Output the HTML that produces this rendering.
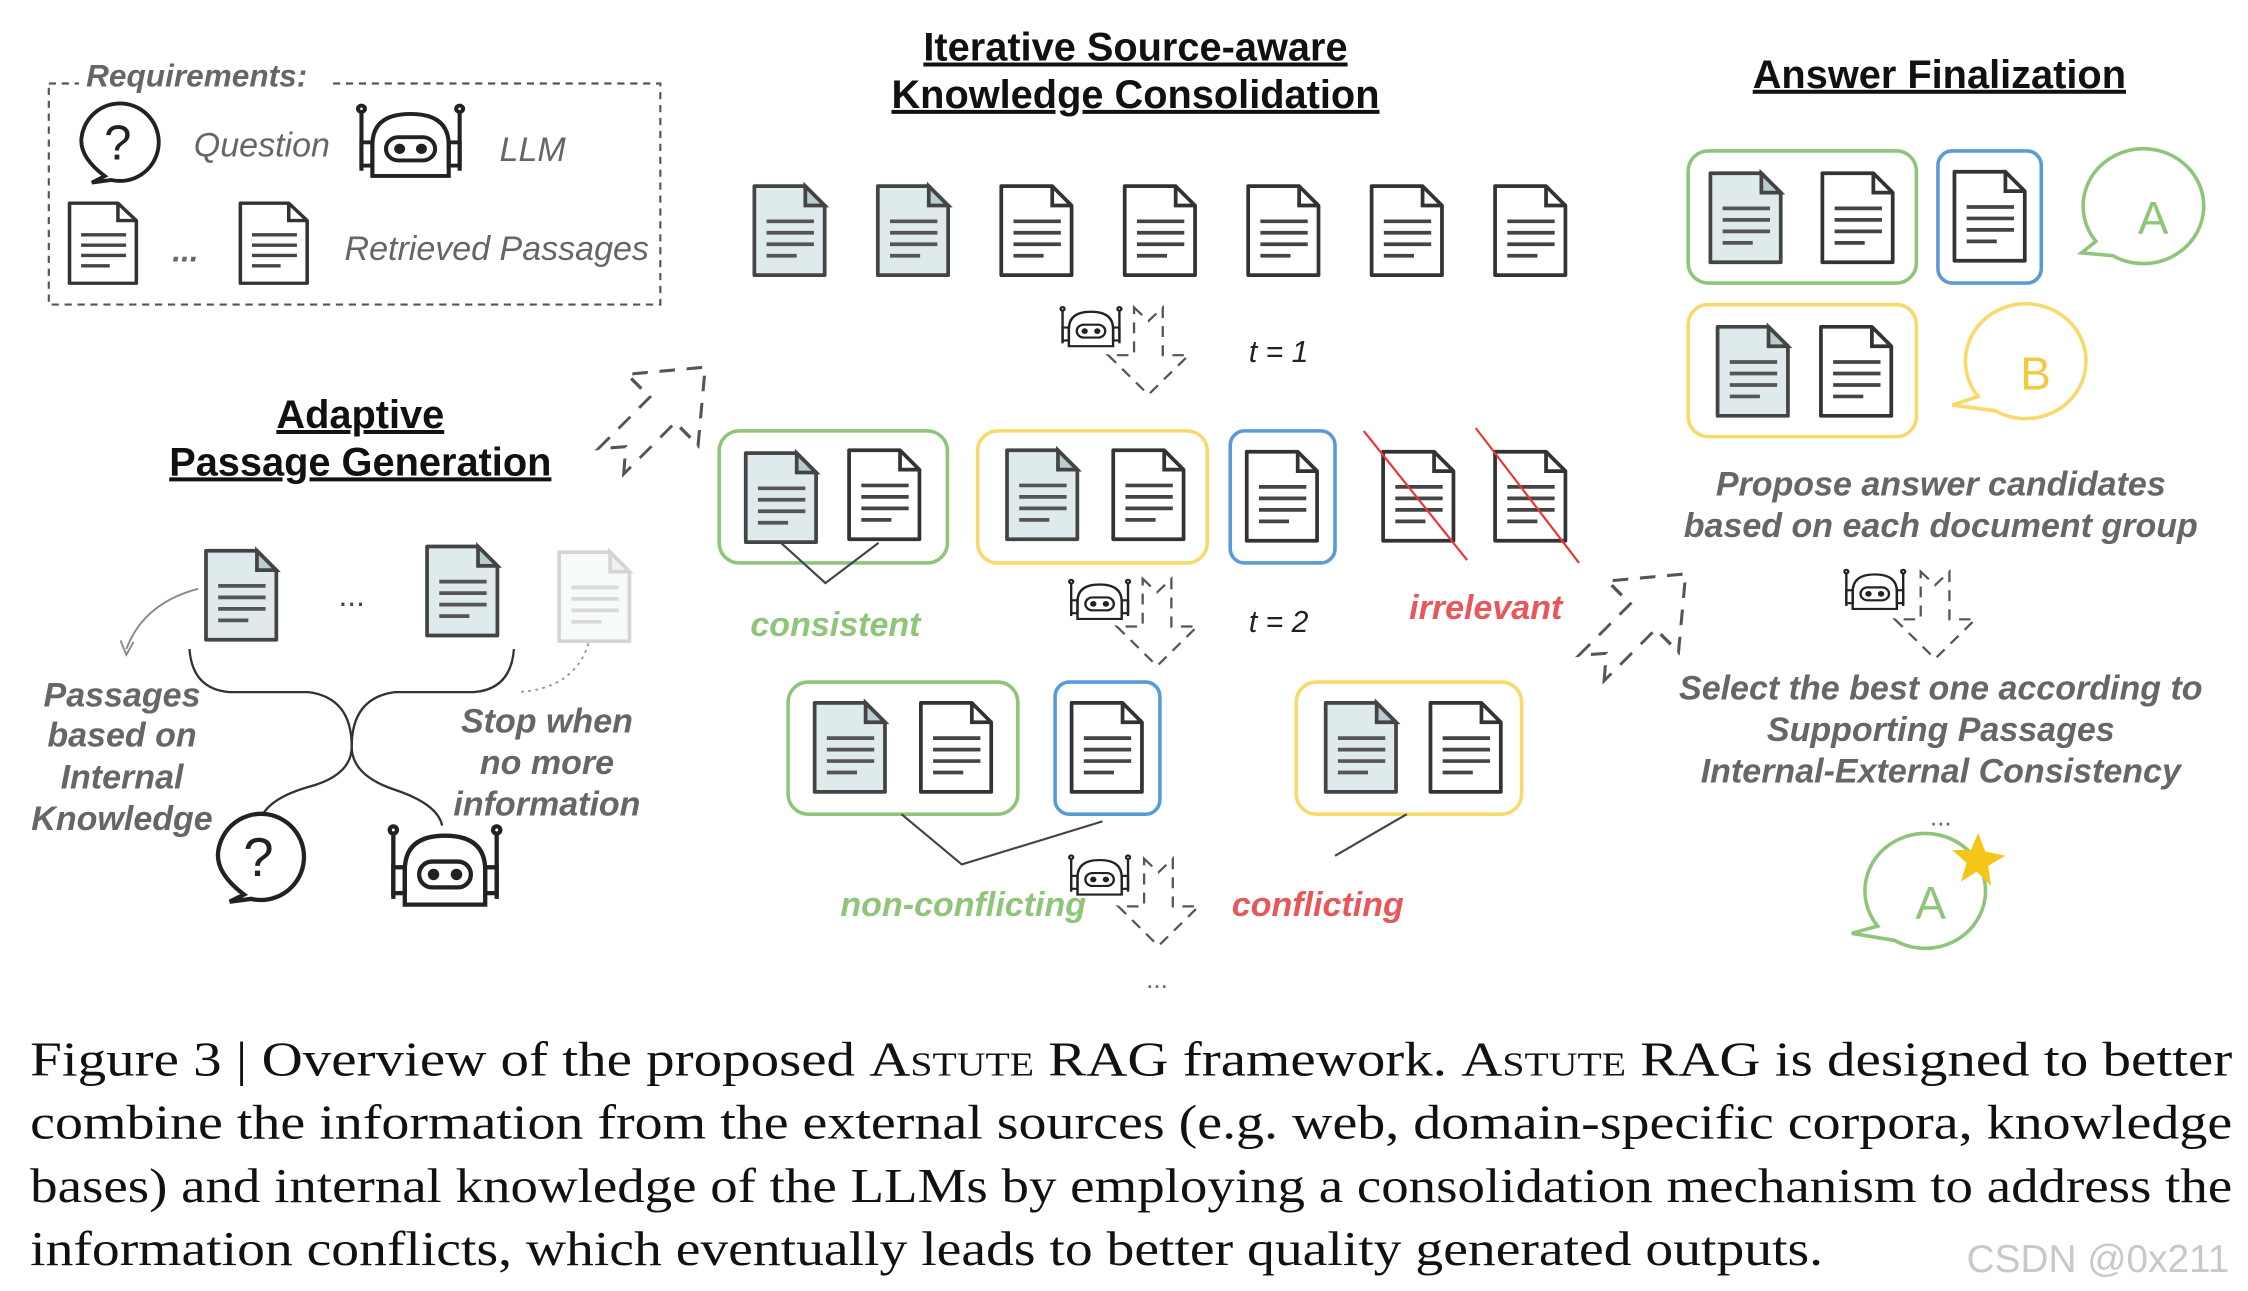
<!DOCTYPE html>
<html><head><meta charset="utf-8"><style>
html,body{margin:0;padding:0;background:#fff;}
svg{display:block}
.it{font-family:"Liberation Sans",sans-serif;font-style:italic;font-weight:bold;fill:#666;}
.ttl{font-family:"Liberation Sans",sans-serif;font-weight:bold;fill:#111;text-decoration:underline;}
.cap{font-family:"Liberation Serif",serif;fill:#111;font-size:34px;}
</style></head><body>
<svg width="2248" height="1291" viewBox="0 0 1566 899" xmlns="http://www.w3.org/2000/svg">
<defs>
<g id="doc"><path d="M1.5,1.5 H37 L50.5,15 V63.5 H1.5 Z" fill="#fff" stroke="#333" stroke-width="2.6" stroke-linejoin="round"/><path d="M37,1.5 V15 H50.5" fill="none" stroke="#333" stroke-width="2.6"/><g stroke="#444" stroke-width="2.6"><line x1="10" y1="26" x2="43" y2="26"/><line x1="10" y1="34" x2="43" y2="34"/><line x1="10" y1="42" x2="43" y2="42"/><line x1="10" y1="50" x2="31" y2="50"/></g></g>
<g id="docb"><path d="M1.5,1.5 H37 L50.5,15 V63.5 H1.5 Z" fill="#deeaeb" stroke="#444" stroke-width="2.6" stroke-linejoin="round"/><path d="M37,1.5 V15 H50.5 Z" fill="#b9cdd0" stroke="#444" stroke-width="2.6"/><g stroke="#555" stroke-width="2.6"><line x1="10" y1="26" x2="43" y2="26"/><line x1="10" y1="34" x2="43" y2="34"/><line x1="10" y1="42" x2="43" y2="42"/><line x1="10" y1="50" x2="31" y2="50"/></g></g>
<g id="robot" fill="none" stroke="#222" stroke-width="3"><path d="M12,56 V32 Q12,8 40,8 Q68,8 68,32 V56 Z" fill="#fff"/><rect x="22" y="26" width="36" height="18" rx="9"/><circle cx="32" cy="35" r="2.5" fill="#222"/><circle cx="48" cy="35" r="2.5" fill="#222"/><line x1="4" y1="6" x2="4" y2="52"/><line x1="76" y1="6" x2="76" y2="52"/><circle cx="4" cy="4" r="2.5"/><circle cx="76" cy="4" r="2.5"/><rect x="4" y="30" width="8" height="18"/><rect x="68" y="30" width="8" height="18"/></g>
<g id="qb"><path d="M-10,25 Q-30,10 -28,-5 A30,30 0 1 1 -5,28 L-20,30 Z" fill="#fff" stroke="#222" stroke-width="3"/><text x="0" y="12" font-family="Liberation Sans,sans-serif" font-size="38" text-anchor="middle" fill="#222">?</text></g>
<path id="darr" d="M20,0 L30,10 L40,0 V35 H58 L30,64 L2,35 H20 Z" fill="none" stroke="#555" stroke-width="1.6" stroke-dasharray="8,6"/>
</defs>

<!-- Requirements -->
<rect x="34" y="58" width="426" height="154" fill="none" stroke="#555" stroke-width="1.5" stroke-dasharray="5,4"/>
<rect x="55" y="40" width="175" height="24" fill="#fff"/>
<text x="60" y="60" class="it" font-size="22">Requirements:</text>
<use href="#qb" transform="translate(82,100) scale(0.9)"/>
<text x="135" y="109" class="it" font-size="23.7" style="font-weight:normal">Question</text>
<use href="#robot" transform="translate(248,72) scale(0.95,0.9)"/>
<text x="348" y="112" class="it" font-size="23.7" style="font-weight:normal">LLM</text>
<use href="#doc" transform="translate(47,140) scale(0.95,0.9)"/>
<text x="120" y="182" class="it" font-size="22">...</text>
<use href="#doc" transform="translate(166,140) scale(0.95,0.9)"/>
<text x="240" y="181" class="it" font-size="23.7" style="font-weight:normal">Retrieved Passages</text>

<!-- Adaptive -->
<text x="251" y="298" class="ttl" font-size="27.7" text-anchor="middle">Adaptive</text>
<text x="251" y="331" class="ttl" font-size="27.7" text-anchor="middle">Passage Generation</text>
<use href="#docb" transform="translate(142,382)"/>
<text x="245" y="422" font-family="Liberation Sans" font-size="22" fill="#444" text-anchor="middle">...</text>
<use href="#docb" transform="translate(296,379)"/>
<g opacity="0.22"><use href="#docb" transform="translate(388,383)"/></g>
<path d="M138,410 Q100,420 88,452" fill="none" stroke="#888" stroke-width="1.3"/>
<path d="M84,446 L88,456 L93,447" fill="none" stroke="#888" stroke-width="1.3"/>
<g fill="none" stroke="#333" stroke-width="1.6">
<path d="M132,452 Q134,480 160,482 L215,482 Q245,486 245,520 Q245,540 215,548 Q180,558 180,578"/>
<path d="M358,452 Q356,480 330,482 L275,482 Q245,486 245,520 Q245,540 275,550 Q305,560 308,575"/>
</g>
<path d="M410,448 Q400,480 360,482" fill="none" stroke="#999" stroke-width="1.3" stroke-dasharray="2,3"/>
<g class="it" font-size="23.7" text-anchor="middle"><text x="85" y="492">Passages</text><text x="85" y="520">based on</text><text x="85" y="549">Internal</text><text x="85" y="578">Knowledge</text>
<text x="381" y="510">Stop when</text><text x="381" y="539">no more</text><text x="381" y="568">information</text></g>
<use href="#qb" transform="translate(180,598)"/>
<use href="#robot" transform="translate(270,574)"/>
<use href="#darr" transform="translate(455,294) rotate(-135) translate(-36,-40) scale(1.25,1.45)"/>

<!-- Iterative -->
<text x="791" y="42" class="ttl" font-size="27.7" text-anchor="middle">Iterative Source-aware</text>
<text x="791" y="75" class="ttl" font-size="27.7" text-anchor="middle">Knowledge Consolidation</text>
<use href="#docb" transform="translate(524,128)"/><use href="#docb" transform="translate(610,128)"/>
<use href="#doc" transform="translate(696,128)"/><use href="#doc" transform="translate(782,128)"/><use href="#doc" transform="translate(868,128)"/><use href="#doc" transform="translate(954,128)"/><use href="#doc" transform="translate(1040,128)"/>
<use href="#robot" transform="translate(738,213) scale(0.55,0.5)"/>
<use href="#darr" transform="translate(770,214) scale(1,0.95)"/>
<text x="870" y="252" font-family="Liberation Sans" font-style="italic" font-size="21" fill="#222">t = 1</text>

<rect x="501" y="300" width="159" height="92" rx="14" fill="none" stroke="#8fc57a" stroke-width="2.5"/>
<use href="#docb" transform="translate(518,314)"/><use href="#doc" transform="translate(590,312)"/>
<path d="M544,378 L575,406 L612,378" fill="none" stroke="#444" stroke-width="1.5"/>
<rect x="681" y="300" width="160" height="92" rx="14" fill="none" stroke="#f9d96a" stroke-width="2.5"/>
<use href="#docb" transform="translate(700,312)"/><use href="#doc" transform="translate(774,312)"/>
<rect x="857" y="300" width="73" height="92" rx="10" fill="none" stroke="#5b9bd5" stroke-width="2.5"/>
<use href="#doc" transform="translate(867,313)"/>
<use href="#doc" transform="translate(962,313)"/><use href="#doc" transform="translate(1040,313)"/>
<line x1="950" y1="300" x2="1022" y2="390" stroke="#e33" stroke-width="1.5"/>
<line x1="1028" y1="298" x2="1100" y2="392" stroke="#e33" stroke-width="1.5"/>
<text x="582" y="443" class="it" font-size="23.7" style="fill:#8fc57a" text-anchor="middle">consistent</text>
<text x="1035" y="431" class="it" font-size="23.7" style="fill:#e8585a" text-anchor="middle">irrelevant</text>
<use href="#robot" transform="translate(744,403) scale(0.55,0.5)"/>
<use href="#darr" transform="translate(776,403) scale(1,0.95)"/>
<text x="870" y="440" font-family="Liberation Sans" font-style="italic" font-size="21" fill="#222">t = 2</text>

<rect x="549" y="475" width="160" height="92" rx="14" fill="none" stroke="#8fc57a" stroke-width="2.5"/>
<use href="#docb" transform="translate(566,488)"/><use href="#doc" transform="translate(640,488)"/>
<rect x="735" y="475" width="73" height="92" rx="10" fill="none" stroke="#5b9bd5" stroke-width="2.5"/>
<use href="#doc" transform="translate(745,488)"/>
<rect x="903" y="475" width="157" height="92" rx="14" fill="none" stroke="#f9d96a" stroke-width="2.5"/>
<use href="#docb" transform="translate(922,488)"/><use href="#doc" transform="translate(995,488)"/>
<path d="M628,567 L670,602 L768,572 M980,567 L930,596" fill="none" stroke="#444" stroke-width="1.5"/>
<text x="671" y="638" class="it" font-size="23.7" style="fill:#8fc57a" text-anchor="middle">non-conflicting</text>
<text x="918" y="638" class="it" font-size="23.7" style="fill:#e8585a" text-anchor="middle">conflicting</text>
<use href="#robot" transform="translate(744,595) scale(0.55,0.5)"/>
<use href="#darr" transform="translate(777,598) scale(1,0.95)"/>
<text x="806" y="688" font-family="Liberation Sans" font-size="18" fill="#666" text-anchor="middle">...</text>
<use href="#darr" transform="translate(1138,438) rotate(-135) translate(-36,-40) scale(1.25,1.45)"/>

<!-- Answer Finalization -->
<text x="1351" y="61" class="ttl" font-size="27.7" text-anchor="middle">Answer Finalization</text>
<rect x="1176" y="105" width="159" height="92" rx="14" fill="none" stroke="#8fc57a" stroke-width="2.5"/>
<use href="#docb" transform="translate(1190,119)"/><use href="#doc" transform="translate(1268,119)"/>
<rect x="1350" y="105" width="72" height="92" rx="10" fill="none" stroke="#5b9bd5" stroke-width="2.5"/>
<use href="#doc" transform="translate(1360,118)"/>
<path d="M1460,168 A42,40 0 1 1 1472,178 L1450,176 Z" fill="#fff" stroke="#8fc57a" stroke-width="2.5"/>
<text x="1500" y="163" font-family="Liberation Sans" font-size="32" fill="#8fc57a" text-anchor="middle">A</text>
<rect x="1176" y="212" width="159" height="92" rx="14" fill="none" stroke="#f9d96a" stroke-width="2.5"/>
<use href="#docb" transform="translate(1195,226)"/><use href="#doc" transform="translate(1267,226)"/>
<path d="M1378,276 A42,40 0 1 1 1390,286 L1360,282 Z" fill="#fff" stroke="#f9d96a" stroke-width="2.5"/>
<text x="1418" y="271" font-family="Liberation Sans" font-size="32" fill="#f5c842" text-anchor="middle">B</text>
<g class="it" font-size="23.7" text-anchor="middle"><text x="1352" y="345">Propose answer candidates</text><text x="1352" y="374">based on each document group</text>
<text x="1352" y="487">Select the best one according to</text><text x="1352" y="516">Supporting Passages</text><text x="1352" y="545">Internal-External Consistency</text></g>
<text x="1352" y="575" font-family="Liberation Sans" font-size="18" fill="#666" text-anchor="middle">...</text>
<use href="#robot" transform="translate(1284,396) scale(0.55,0.5)"/>
<use href="#darr" transform="translate(1318,398) scale(1,0.95)"/>
<path d="M1308,645 A42,40 0 1 1 1320,655 L1290,650 Z" fill="#fff" stroke="#8fc57a" stroke-width="2.5"/>
<text x="1345" y="640" font-family="Liberation Sans" font-size="32" fill="#8fc57a" text-anchor="middle">A</text>
<path d="M1378,580 L1383,593 L1397,596 L1385,603 L1387,617 L1377,607 L1366,614 L1370,601 L1360,592 L1373,592 Z" fill="#f5c518"/>

<!-- Caption -->
<text x="21" y="749" class="cap" textLength="1534" lengthAdjust="spacingAndGlyphs">Figure 3 | Overview of the proposed <tspan style="font-variant:small-caps">Astute</tspan> RAG framework. <tspan style="font-variant:small-caps">Astute</tspan> RAG is designed to better</text>
<text x="21" y="793" class="cap" textLength="1534" lengthAdjust="spacingAndGlyphs">combine the information from the external sources (e.g. web, domain-specific corpora, knowledge</text>
<text x="21" y="837" class="cap" textLength="1534" lengthAdjust="spacingAndGlyphs">bases) and internal knowledge of the LLMs by employing a consolidation mechanism to address the</text>
<text x="21" y="881" class="cap" textLength="1249" lengthAdjust="spacingAndGlyphs">information conflicts, which eventually leads to better quality generated outputs.</text>
<text x="1370" y="886" font-family="Liberation Sans" font-size="27" fill="#c8c8c8">CSDN @0x211</text>
</svg>
</body></html>
